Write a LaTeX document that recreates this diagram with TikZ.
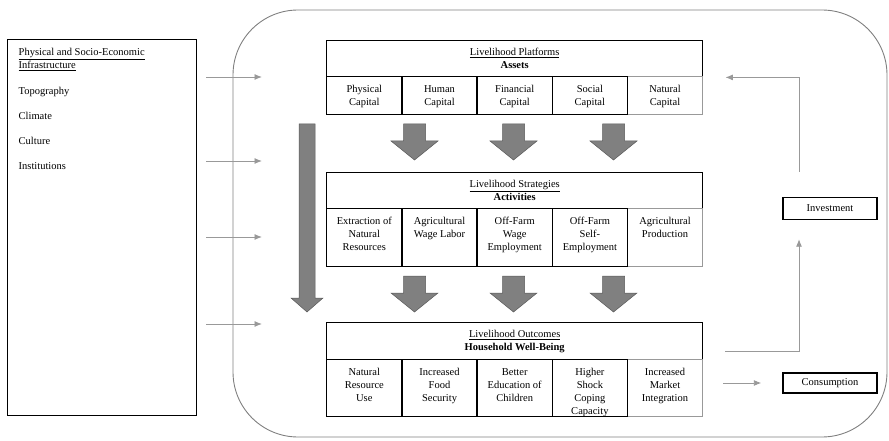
\documentclass[tikz,border=0pt]{standalone}
\usepackage{fontspec}
\setmainfont{Liberation Serif}
\usetikzlibrary{arrows.meta}

% text of one cell, set from the top
\newcommand{\celltext}[2]{\parbox[c][#1][t]{73pt}{\centering\rule{0pt}{16pt}#2}}

\tikzset{
  headbox/.style={draw, line width=1.4pt, minimum width=376pt, minimum height=36pt,
    inner sep=0pt, align=center, anchor=north west},
  cellbox/.style={draw, line width=1.4pt, minimum width=75.2pt, inner sep=0pt, anchor=north west},
  greybox/.style={cellbox, draw=black!40, line width=0.8pt},
  sidebox/.style={draw, line width=1.4pt, minimum width=94pt, minimum height=22pt, inner sep=0pt},
  thinarrow/.style={draw=black!40, line width=0.9pt, -{Latex[length=7.5pt,width=6pt]}},
  fatarrow/.pic={
    \filldraw[fill=black!50, draw=black!65, line width=0.5pt]
      (-11,0) -- (11,0) -- (11,17) -- (23.5,17) -- (0,36) -- (-23.5,17) -- (-11,17) -- cycle;
  }
}

\begin{document}
\begin{tikzpicture}[x=1pt, y=-1pt, every node/.style={font=\fontsize{10.5}{12.8}\selectfont}]
  \useasboundingbox (0,0) rectangle (889,441);

  % Outer frame
  \draw[black!50, line width=0.9pt, rounded corners=65pt] (233,10) rectangle (887,437);

  % Infrastructure box
  \node[draw, line width=1.4pt, anchor=north west, inner sep=0pt,
        minimum width=189pt, minimum height=376pt] (infra) at (7,39)
    {\parbox[c][376pt][t]{167pt}{\raggedright\rule{0pt}{16pt}\underline{Physical and Socio-Economic}\\
      \underline{Infrastructure}\\[13.2pt]
      Topography\\[12.2pt]
      Climate\\[12.2pt]
      Culture\\[12.2pt]
      Institutions}};

  % Assets
  \node[headbox] (plat) at (326,40) {\underline{Livelihood Platforms}\\\textbf{Assets}};
  \node[greybox] (asset5) at (627,76) {\celltext{38pt}{Natural\\Capital}};
  \foreach \i/\txt in {1/{Physical\\Capital},2/{Human\\Capital},3/{Financial\\Capital},4/{Social\\Capital}}
    \node[cellbox] (asset\i) at ({326+(\i-1)*75.2},76) {\celltext{38pt}{\txt}};

  % Activities
  \node[headbox] (strat) at (326,172) {\underline{Livelihood Strategies}\\\textbf{Activities}};
  \node[greybox] (act5) at (627,208) {\celltext{58pt}{Agricultural\\Production}};
  \foreach \i/\txt in {1/{Extraction of\\Natural\\Resources},2/{Agricultural\\Wage Labor},
                      3/{Off-Farm\\Wage\\Employment},4/{Off-Farm\\Self-\\Employment}}
    \node[cellbox] (act\i) at ({326+(\i-1)*75.2},208) {\celltext{58pt}{\txt}};

  % Well-being
  \node[headbox, minimum height=37pt] (outc) at (326,322) {\underline{Livelihood Outcomes}\\\textbf{Household Well-Being}};
  \node[greybox] (res5) at (627,359) {\celltext{57pt}{Increased\\Market\\Integration}};
  \foreach \i/\txt in {1/{Natural\\Resource\\Use},2/{Increased\\Food\\Security},
                      3/{Better\\Education of\\Children},4/{Higher\\Shock\\Coping\\Capacity}}
    \node[cellbox] (res\i) at ({326+(\i-1)*75.2},359) {\celltext{57pt}{\txt}};

  % Block arrows
  \foreach \x in {414.5,513.5,613.5} {
    \pic at (\x,124) {fatarrow};
    \pic at (\x,276) {fatarrow};
  }
  \filldraw[fill=black!50, draw=black!65, line width=0.5pt]
    (299,124) -- (315,124) -- (315,298) -- (323,298) -- (307,312) -- (291,298) -- (299,298) -- cycle;

  % Arrows from the infrastructure box
  \foreach \y [count=\k] in {77,161,237,324}
    \coordinate (in\k) at (262,\y);
  \foreach \k in {1,...,4}
    \draw[thinarrow] ([xshift=9pt]infra.east |- in\k) -- (in\k);

  % Investment and consumption
  \node[sidebox] (invest) at (830,208.5) {Investment};
  \node[sidebox, minimum height=20pt] (consum) at (830,383) {Consumption};
  \draw[thinarrow] ([xshift=22pt,yshift=-10pt]outc.east) -| ([xshift=-31pt,yshift=-19pt]invest.south);
  \draw[thinarrow] ([xshift=-31pt,yshift=25pt]invest.north) |- ([xshift=22pt]plat.south east);
  \draw[thinarrow] ([xshift=-59pt]consum.west) -- ([xshift=-21pt]consum.west);
\end{tikzpicture}
\end{document}
